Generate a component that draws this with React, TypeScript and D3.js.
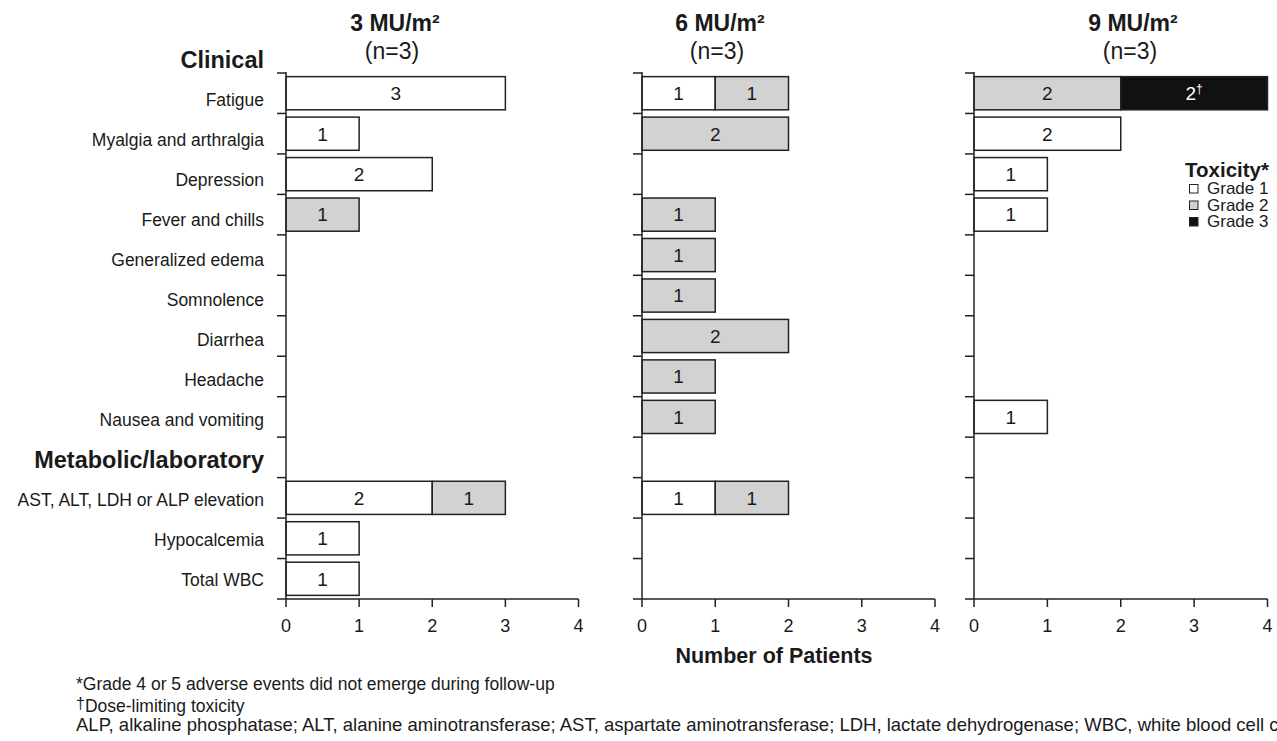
import React from "react";
import * as d3 from "d3";

// rows of the chart
const clinicalEvents = [
  "Fatigue",
  "Myalgia and arthralgia",
  "Depression",
  "Fever and chills",
  "Generalized edema",
  "Somnolence",
  "Diarrhea",
  "Headache",
  "Nausea and vomiting",
];
const labEvents = ["AST, ALT, LDH or ALP elevation", "Hypocalcemia", "Total WBC"];
const sectionHeaders = ["Clinical", "Metabolic/laboratory"];

const doseTitles = ["3 MU/m²", "6 MU/m²", "9 MU/m²"];
const doseN = [3, 3, 3];
const gradeKeys = ["Grade 1", "Grade 2", "Grade 3"];
const gradeColors = ["#ffffff", "#d2d2d2", "#111111"];
const xTickValues = [0, 1, 2, 3, 4];

// patients per event (clinical events then lab events)
const grade1_3MU = [3, 1, 2, 0, 0, 0, 0, 0, 0, 2, 1, 1];
const grade2_3MU = [0, 0, 0, 1, 0, 0, 0, 0, 0, 1, 0, 0];
const grade3_3MU = [0, 0, 0, 0, 0, 0, 0, 0, 0, 0, 0, 0];

const grade1_6MU = [1, 0, 0, 0, 0, 0, 0, 0, 0, 1, 0, 0];
const grade2_6MU = [1, 2, 0, 1, 1, 1, 2, 1, 1, 1, 0, 0];
const grade3_6MU = [0, 0, 0, 0, 0, 0, 0, 0, 0, 0, 0, 0];

const grade1_9MU = [0, 2, 1, 1, 0, 0, 0, 0, 1, 0, 0, 0];
const grade2_9MU = [2, 0, 0, 0, 0, 0, 0, 0, 0, 0, 0, 0];
const grade3_9MU = [2, 0, 0, 0, 0, 0, 0, 0, 0, 0, 0, 0];
// dose-limiting toxicity marks (event, grade)
const dltMarks = [{ dose: 2, event: "Fatigue", grade: "Grade 3" }];

const footnotes = [
  "*Grade 4 or 5 adverse events did not emerge during follow-up",
  "Dose-limiting toxicity",
  "ALP, alkaline phosphatase; ALT, alanine aminotransferase; AST, aspartate aminotransferase; LDH, lactate dehydrogenase; WBC, white blood cell count",
];

const FONT = "'Liberation Sans', Arial, Helvetica, sans-serif";
const INK = "#1a1a1a";

const allEvents = [...clinicalEvents, ...labEvents];
const plotRows = [...clinicalEvents, sectionHeaders[1], ...labEvents];
const labelRows = [sectionHeaders[0], ...plotRows];

const panelRanges: [number, number][] = [
  [286, 578.5],
  [642, 935],
  [974, 1267.5],
];
const titleCenters = [395, 720, 1133];
const plotTop = 73;
const plotBottom = 599;

function buildTable(g1: number[], g2: number[], g3: number[]) {
  return allEvents.map((ev, i) => ({
    event: ev,
    "Grade 1": g1[i],
    "Grade 2": g2[i],
    "Grade 3": g3[i],
  }));
}

const tables = [
  buildTable(grade1_3MU, grade2_3MU, grade3_3MU),
  buildTable(grade1_6MU, grade2_6MU, grade3_6MU),
  buildTable(grade1_9MU, grade2_9MU, grade3_9MU),
];

export default function App() {
  const y = d3
    .scaleBand<string>()
    .domain(plotRows)
    .range([plotTop, plotBottom])
    .paddingInner(0.18)
    .paddingOuter(0.09);
  const step = (plotBottom - plotTop) / plotRows.length;
  const boundaries = d3.range(plotRows.length + 1).map((i) => plotTop + i * step);

  const yLabel = d3.scalePoint<string>().domain(labelRows).range([60, 579.5]);

  const stack = d3.stack<any>().keys(gradeKeys);

  return (
    <svg
      width={1277}
      height={741}
      style={{ position: "absolute", left: 0, top: 0, background: "#fff" }}
      fontFamily={FONT}
    >
      {/* row labels */}
      {labelRows.map((r) => {
        const header = sectionHeaders.includes(r);
        return (
          <text
            key={r}
            x={264}
            y={yLabel(r)}
            dy="0.36em"
            textAnchor="end"
            fontSize={header ? 23.5 : 17.5}
            fontWeight={header ? "bold" : "normal"}
            fill={INK}
          >
            {r}
          </text>
        );
      })}

      {tables.map((table, pi) => {
        const x = d3.scaleLinear().domain([0, 4]).range(panelRanges[pi]);
        const series = stack(table);
        return (
          <g key={pi}>
            <text
              x={titleCenters[pi]}
              y={31}
              textAnchor="middle"
              fontSize={23}
              fontWeight="bold"
              fill={INK}
            >
              {doseTitles[pi]}
            </text>
            <text x={titleCenters[pi] - 3} y={59} textAnchor="middle" fontSize={23} fill={INK}>
              (n={doseN[pi]})
            </text>

            {series.map((s, si) =>
              s.map((seg, i) => {
                const v = seg[1] - seg[0];
                if (!v) return null;
                const ev = table[i].event;
                const x0 = x(seg[0]);
                const x1 = x(seg[1]);
                const yy = y(ev)!;
                const dlt = dltMarks.some(
                  (m) => m.dose === pi && m.event === ev && m.grade === s.key
                );
                return (
                  <g key={s.key + ev}>
                    <rect
                      x={x0}
                      y={yy}
                      width={x1 - x0}
                      height={y.bandwidth()}
                      fill={gradeColors[si]}
                      stroke="#222"
                      strokeWidth={1.5}
                    />
                    <text
                      x={(x0 + x1) / 2}
                      y={yy + y.bandwidth() / 2}
                      dy="0.36em"
                      textAnchor="middle"
                      fontSize={19}
                      fill={si === 2 ? "#fff" : INK}
                    >
                      {v}
                      {dlt && (
                        <tspan fontSize={12} dy={-7}>
                          †
                        </tspan>
                      )}
                    </text>
                  </g>
                );
              })
            )}

            {/* y axis */}
            <line
              x1={x(0)}
              x2={x(0)}
              y1={plotTop - 1}
              y2={plotBottom}
              stroke="#222"
              strokeWidth={1.5}
            />
            {boundaries.map((b, bi) => (
              <line
                key={bi}
                x1={x(0) - 9}
                x2={x(0)}
                y1={b}
                y2={b}
                stroke="#222"
                strokeWidth={1.5}
              />
            ))}

            {/* x axis */}
            <line
              x1={x(0)}
              x2={x(4)}
              y1={plotBottom}
              y2={plotBottom}
              stroke="#222"
              strokeWidth={1.5}
            />
            {xTickValues.map((t) => (
              <g key={t}>
                <line
                  x1={x(t)}
                  x2={x(t)}
                  y1={plotBottom}
                  y2={plotBottom + 8}
                  stroke="#222"
                  strokeWidth={1.5}
                />
                <text
                  x={x(t)}
                  y={632}
                  textAnchor="middle"
                  fontSize={18}
                  fill={INK}
                >
                  {t}
                </text>
              </g>
            ))}
          </g>
        );
      })}

      <text x={774} y={663} textAnchor="middle" fontSize={21.5} fontWeight="bold" fill={INK}>
        Number of Patients
      </text>

      {/* legend */}
      <text x={1269} y={177} textAnchor="end" fontSize={20.5} fontWeight="bold" fill={INK}>
        Toxicity*
      </text>
      {gradeKeys.map((g, i) => (
        <g key={g} transform={`translate(1189, ${194 + i * 16.5})`}>
          <rect
            x={0.5}
            y={-9.5}
            width={8.5}
            height={8.5}
            fill={gradeColors[i]}
            stroke="#222"
            strokeWidth={1}
          />
          <text x={18} y={0} fontSize={17} fill={INK}>
            {g}
          </text>
        </g>
      ))}

      {/* footnotes */}
      <text x={76} y={690} fontSize={17.5} fill={INK}>
        {footnotes[0]}
      </text>
      <text x={76} y={712} fontSize={17.5} fill={INK}>
        <tspan fontSize={16} dy={-3}>
          †
        </tspan>
        <tspan dy={3}>{footnotes[1]}</tspan>
      </text>
      <text x={76} y={731} fontSize={18.5} fill={INK}>
        {footnotes[2]}
      </text>
    </svg>
  );
}
